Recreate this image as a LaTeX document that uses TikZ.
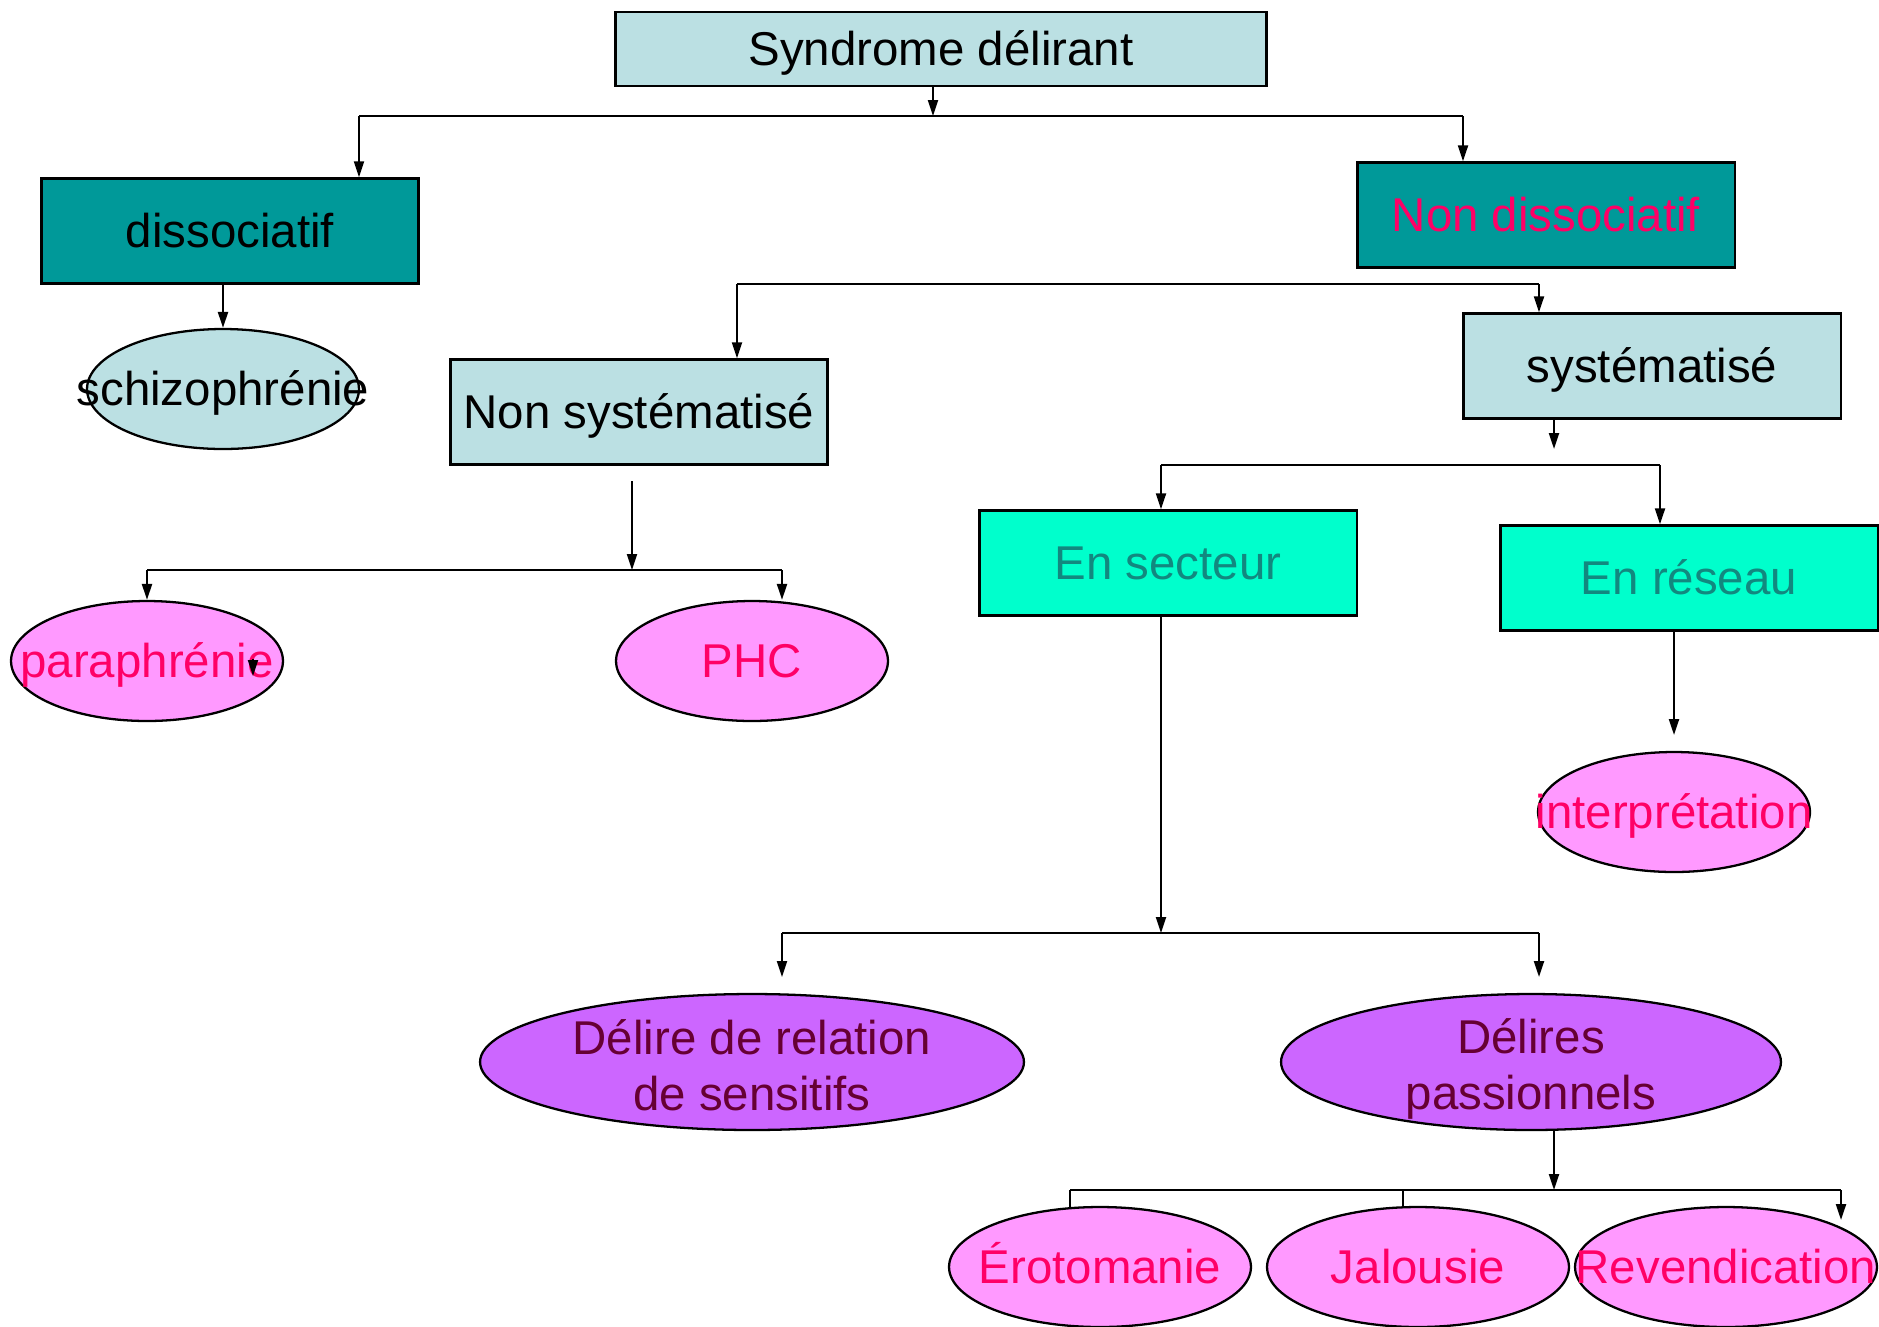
\documentclass[tikz,border=0pt]{standalone}
\usepackage{fontspec}
\setmainfont{Liberation Sans}
\usetikzlibrary{arrows.meta, shapes.geometric}

\definecolor{paleblue}{HTML}{BBE0E3}
\definecolor{tealfill}{HTML}{009999}
\definecolor{aqua}{HTML}{00FFCC}
\definecolor{pinkfill}{HTML}{FF99FF}
\definecolor{violetfill}{HTML}{CC66FF}
\definecolor{pinktext}{HTML}{FF0066}
\definecolor{tealtext}{HTML}{12887F}
\definecolor{maroontext}{HTML}{660033}

\tikzset{
  every node/.style={font=\fontsize{27}{32}\selectfont},
  txt/.style={text height=20pt, text depth=1pt},
  box/.style={txt, draw=black, line width=1.4pt, minimum width=7.55cm, minimum height=2.1cm, inner sep=0pt},
  oval/.style={ellipse, draw=black, line width=1.3pt, minimum width=5.44cm, minimum height=2.4cm, inner sep=0pt},
  wideoval/.style={oval, minimum width=6.04cm},
  bigoval/.style={oval, fill=violetfill, minimum height=2.72cm},
  arr/.style={line width=1.2pt, -{Triangle[length=0.32cm,width=0.2cm]}},
  bar/.style={line width=1.4pt}
}

\begin{document}
\begin{tikzpicture}[x=0.02cm, y=-0.02cm]
	\useasboundingbox (0,0) rectangle (1879,1326);
	% boxes
	\node[box, fill=paleblue, minimum width=13.02cm, minimum height=1.48cm] (top) at (941,49) {Syndrome délirant};
	\node[box, fill=tealfill] (dis) at (230,231) {dissociatif};
	\node[box, fill=tealfill, text=pinktext] (nondis) at (1546,215) {Non dissociatif};
	\node[box, fill=paleblue] (nonsys) at (639,412) {Non systématisé};
	\node[box, fill=paleblue] (sys) at (1652,366) {systématisé};
	\node[box, fill=aqua, text=tealtext] (secteur) at (1168,563) {En secteur};
	\node[box, fill=aqua, text=tealtext] (reseau) at (1689,578) {En réseau};
	% ovals
	\node[oval, fill=paleblue] (schizo) at (223,389) {};
	\node[txt] at (schizo) {schizophrénie};
	\node[oval, fill=pinkfill] (para) at (147,661) {};
	\node[txt, text=pinktext] at (para) {paraphrénie};
	\node[oval, fill=pinkfill] (phc) at (752,661) {};
	\node[txt, text=pinktext] at (phc) {PHC};
	\node[oval, fill=pinkfill] (interp) at (1674,812) {};
	\node[txt, text=pinktext] at (interp) {interprétation};
	\node[bigoval, minimum width=10.88cm] (relation) at (752,1062) {};
	\node[text=maroontext, align=center, yshift=-0.06cm] at (relation) {Délire de relation\\de sensitifs};
	\node[bigoval, minimum width=10cm] (passion) at (1531,1062) {};
	\node[text=maroontext, align=center, yshift=-0.14cm] at (passion) {Délires\\passionnels};
	\node[wideoval, fill=pinkfill] (eroto) at (1100,1267) {};
	\node[txt, text=pinktext] at (eroto) {Érotomanie};
	\node[wideoval, fill=pinkfill] (jal) at (1418,1267) {};
	\node[txt, text=pinktext] at (jal) {Jalousie};
	\node[wideoval, fill=pinkfill] (revend) at (1726,1267) {};
	\node[txt, text=pinktext] at (revend) {Revendication};
	% junction points
	\coordinate (j1) at (933,116);
	\coordinate (b1l) at (359,116);
	\coordinate (b1r) at (1463,116);
	\coordinate (b2l) at (737,284);
	\coordinate (b2r) at (1539,284);
	\coordinate (s1) at (1554,449);
	\coordinate (b3l) at (1161,465);
	\coordinate (b3r) at (1660,465);
	\coordinate (n1) at (632,481);
	\coordinate (j4) at (632,570);
	\coordinate (b4l) at (147,570);
	\coordinate (b4r) at (782,570);
	\coordinate (j5) at (1161,933);
	\coordinate (b5l) at (782,933);
	\coordinate (b5r) at (1539,933);
	\coordinate (i1) at (1674,735);
	\coordinate (j6) at (1554,1190);
	\coordinate (b6l) at (1070,1190);
	\coordinate (b6m) at (1403,1190);
	\coordinate (b6r) at (1841,1190);
	\coordinate (stray) at (253,659);
	% connectors
	\draw[arr] (top.south -| j1) -- (j1);
	\draw[bar] (b1l) -- (b1r);
	\draw[arr] (b1l) -- (b1l |- dis.north);
	\draw[arr] (b1r) -- (b1r |- nondis.north);
	\draw[arr] (dis.south -| schizo) -- (schizo.north);
	\draw[bar] (b2l) -- (b2r);
	\draw[arr] (b2l) -- (b2l |- nonsys.north);
	\draw[arr] (b2r) -- (b2r |- sys.north);
	\draw[arr] (sys.south -| s1) -- (s1);
	\draw[bar] (b3l) -- (b3r);
	\draw[arr] (b3l) -- (b3l |- secteur.north);
	\draw[arr] (b3r) -- (b3r |- reseau.north);
	\draw[arr] (n1) -- (j4);
	\draw[bar] (b4l) -- (b4r);
	\draw[arr] (b4l) -- (para.north);
	\draw[arr] (b4r) -- (b4r |- phc.north);
	\draw[arr] (stray) -- ++(0,17);
	\draw[arr] (secteur.south -| j5) -- (j5);
	\draw[bar] (b5l) -- (b5r);
	\draw[arr] (b5l) -- ++(0,44);
	\draw[arr] (b5r) -- ++(0,44);
	\draw[arr] (reseau.south -| i1) -- (i1);
	\draw[arr] (passion.south -| j6) -- (j6);
	\draw[bar] (b6l) -- (b6r);
	\draw[line width=1.2pt] (b6l) -- ++(0,18);
	\draw[line width=1.2pt] (b6m) -- ++(0,17);
	\draw[arr] (b6r) -- ++(0,30);
\end{tikzpicture}
\end{document}
